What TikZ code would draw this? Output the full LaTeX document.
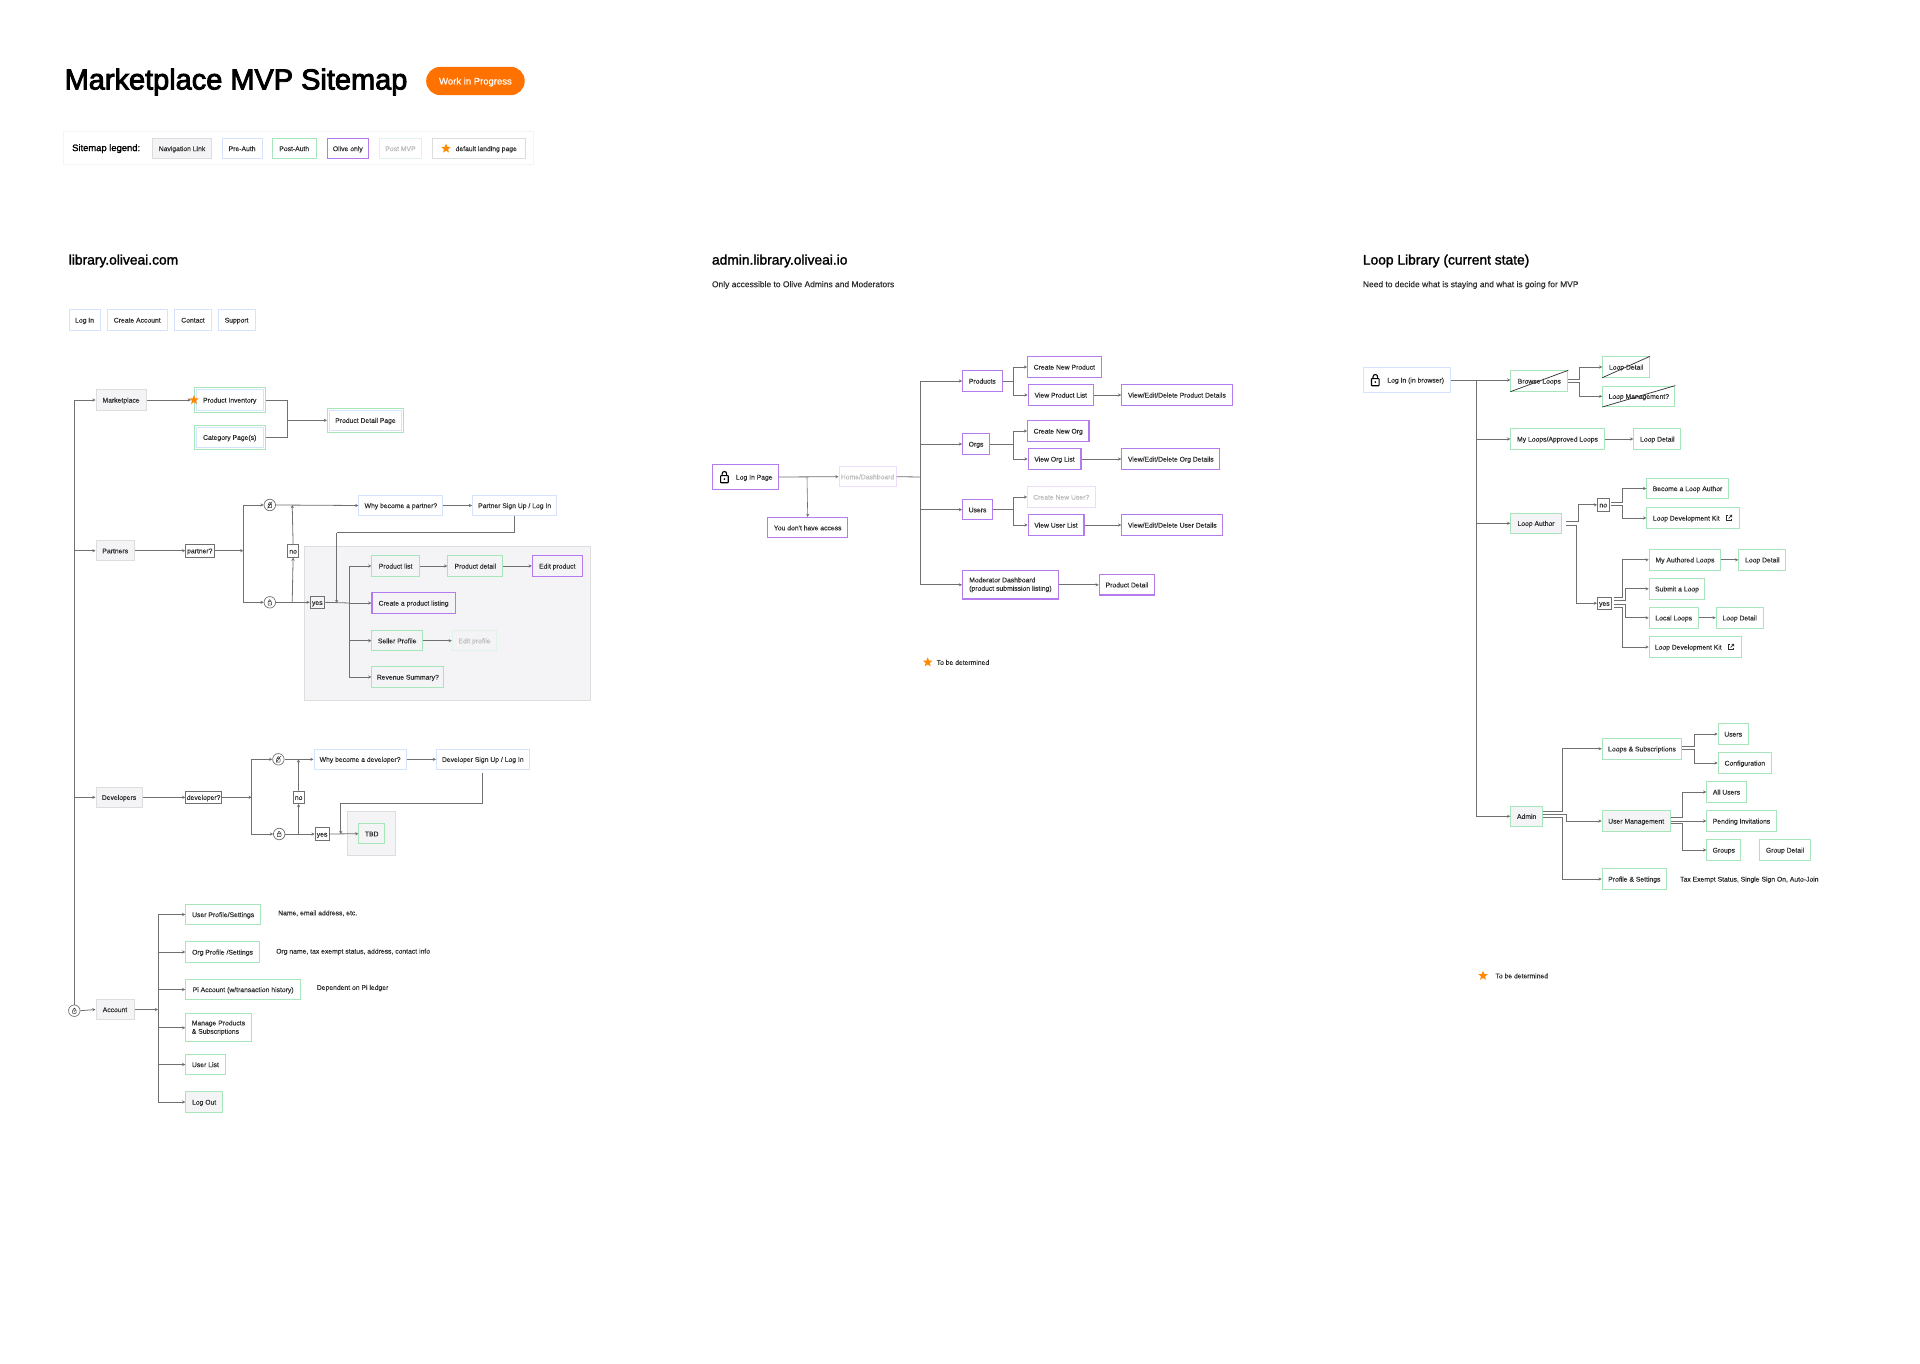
\documentclass[tikz,border=0pt]{standalone}
\usepackage{fontspec}
\usepackage{xcolor}
\setmainfont{Liberation Sans}
\newfontfamily\labelfont[FakeBold=0.15]{Liberation Sans}
\newfontfamily\medfont[FakeBold=1.6]{Liberation Sans}
\newfontfamily\heavyfont[FakeBold=3]{Liberation Sans}
\usepackage{tikz}
\usetikzlibrary{arrows.meta}
\usetikzlibrary{shapes.geometric}
\definecolor{linegray}{HTML}{707070}
\definecolor{textgray}{HTML}{2E2E2E}
\definecolor{fadetext}{HTML}{BBBBBB}
\definecolor{navfill}{HTML}{F4F4F6}
\definecolor{navedge}{HTML}{DDDDDD}
\definecolor{preedge}{HTML}{D5E3FF}
\definecolor{postedge}{HTML}{A6E6BA}
\definecolor{oliveedge}{HTML}{B57BEE}
\definecolor{laterpurple}{HTML}{EBDDFB}
\definecolor{latergreen}{HTML}{DFF4E6}
\definecolor{pillorange}{HTML}{FF7200}
\definecolor{starorange}{HTML}{FF8A00}
\tikzset{
  boxnode/.style={anchor=west, inner xsep=0pt, inner ysep=0pt, minimum height=20.4pt, text height=6.2pt, text depth=1pt, text=textgray, align=left, font=\labelfont\fontsize{6.8}{8.4}\selectfont},
  twolines/.style={text height=, text depth=, minimum height=28.3pt},
  navnode/.style={boxnode, draw=navedge, fill=navfill, line width=1pt},
  prenode/.style={boxnode, draw=preedge, line width=1pt},
  postnode/.style={boxnode, draw=postedge, line width=1pt},
  olivenode/.style={boxnode, draw=oliveedge, line width=1.1pt},
  laternode/.style={boxnode, draw=latergreen, line width=1pt, text=fadetext},
  lateolive/.style={boxnode, draw=laterpurple, line width=1pt, text=fadetext},
  asknode/.style={boxnode, draw=linegray, line width=.8pt, minimum height=12.4pt},
  gatenode/.style={circle, draw=linegray, fill=white, line width=.7pt, minimum size=11.5pt, inner sep=0pt},
  starnode/.style={star, star points=5, star point ratio=2.3, fill=starorange, minimum size=10pt, inner sep=0pt},
  notenode/.style={anchor=west, inner sep=0pt, text height=6.2pt, text depth=1pt, text=textgray, font=\labelfont\fontsize{6.8}{8.4}\selectfont},
  headnode/.style={anchor=west, inner sep=0pt, text=black, font=\medfont\fontsize{13.8}{17}\selectfont},
  subnode/.style={anchor=west, inner sep=0pt, text=textgray, font=\labelfont\fontsize{8.45}{10}\selectfont},
  panelbox/.style={fill=navfill, draw=navedge, line width=.8pt},
  wire/.style={draw=linegray, line width=.8pt},
  arr/.style={wire, -{Stealth[length=3.2pt,width=3.2pt]}},
  crossed/.style={draw=textgray, line width=.7pt},
  pics/lockpic/.style={code={
    \draw[rounded corners=.6pt] (-4,-1.5) rectangle (4,6);
    \draw (-2.4,-1.5) -- (-2.4,-3.4) arc (180:0:2.4 and -2.4) -- (2.4,-1.5);
    \fill (0,2.2) circle (1);
  }},
  pics/openlockpic/.style={code={
    \draw[rounded corners=.6pt] (-4,-1.5) rectangle (4,6);
    \draw (-2.4,-1.5) -- (-2.4,-3.4) arc (180:0:2.4 and -2.4) -- (2.4,-1.5);
    \draw (-5,7) -- (5,-7);
  }},
  pics/linkpic/.style={code={
    \draw (-1,-3.5) -- (-3.5,-3.5) -- (-3.5,3.5) -- (3.5,3.5) -- (3.5,1);
    \draw (-.5,.5) -- (3.5,-3.5) (.8,-3.5) -- (3.5,-3.5) -- (3.5,-.8);
  }},
}
\begin{document}
\begin{tikzpicture}[x=1pt, y=-1pt]
  \useasboundingbox (0,0) rectangle (1920,1364);
  \fill[white] (0,0) rectangle (1920,1364);

  \node[anchor=west, inner sep=0pt, font=\heavyfont\fontsize{28.95}{32}\selectfont] (title) at (64.5,82) {Marketplace MVP Sitemap};
  \node[anchor=west, fill=pillorange, text=white, rounded corners=14pt, inner sep=0pt, minimum width=98.5pt, minimum height=28.3pt, text height=7.6pt, text depth=.6pt, font=\labelfont\fontsize{9.5}{11}\selectfont] (wip) at (426,81) {Work in Progress};

  \node[draw=navfill, line width=1pt, anchor=west, minimum width=470pt, minimum height=33pt, inner sep=0pt] (legend) at (63,148.5) {};
  \node[notenode, text=black, font=\medfont\fontsize{9.4}{11}\selectfont] (legendname) at (72,148.5) {Sitemap legend:};
  \node[navnode, minimum width=59pt] (legendnav) at (152,148.5) {Navigation Link};
  \node[prenode, minimum width=40pt] (legendpre) at (221.6,148.5) {Pre-Auth};
  \node[postnode, minimum width=43.5pt] (legendpost) at (272,148.5) {Post-Auth};
  \node[olivenode, minimum width=41.5pt] (legendolive) at (326.5,148.5) {Olive only};
  \node[laternode, minimum width=42pt] (legendlater) at (379,148.5) {Post MVP};
  \node[boxnode, draw=navedge, line width=1pt, minimum width=92.5pt] (legenddefault) at (432,148.5) {\hspace*{15pt}default landing page};
  \node[starnode] (legendstar) at (446,148.5) {};

  % public site
  \node[headnode] (libraryhead) at (68.6,261) {library.oliveai.com};
  \node[prenode, minimum width=31pt] (login) at (68.6,320) {Log In};
  \node[prenode, minimum width=59.5pt] (create) at (107,320) {Create Account};
  \node[prenode, minimum width=37pt] (contact) at (174,320) {Contact};
  \node[prenode, minimum width=37.2pt] (support) at (217.5,320) {Support};

  \node[navnode, minimum width=50.2pt] (market) at (95.5,400) {Marketplace};
  \node[postnode, minimum width=70.5pt, minimum height=24.6pt] (inventory) at (194,400) {};
  \node[prenode, minimum width=66.5pt] (inventoryin) at (196,400) {Product Inventory};
  \node[starnode] (inventorystar) at (194,400) {};
  \node[postnode, minimum width=70.5pt, minimum height=24.6pt] (category) at (194,437.3) {};
  \node[prenode, minimum width=66.5pt] (categoryin) at (196,437.3) {Category Page(s)};
  \node[postnode, minimum width=76pt, minimum height=24.4pt] (detail) at (327,420.3) {};
  \node[prenode, minimum width=72pt] (detailin) at (329,420.3) {Product Detail Page};
  \coordinate (marketjoin) at (287.3,420.3);
  \draw[arr] (market.east) -- (inventorystar.west);
  \draw[wire] (inventory.east) -| (marketjoin);
  \draw[wire] (category.east) -| (marketjoin);
  \draw[arr] (marketjoin) -- (detail.west);

  \node[navnode, minimum width=38.5pt] (partners) at (95.5,550.7) {Partners};
  \node[asknode, minimum width=28.2pt] (partnerask) at (185.3,550.7) {partner?};
  \coordinate (partnersplit) at (243.3,550.7);
  \node[gatenode] (partnerout) at (269.8,505) {};
  \node[gatenode] (partnerin) at (269.8,602.3) {};
  \pic[scale=.45, draw=textgray, line width=.5pt] at (partnerout) {openlockpic};
  \pic[scale=.45, draw=textgray, fill=textgray, line width=.5pt] at (partnerin) {lockpic};
  \node[prenode, minimum width=84pt] (partnerwhy) at (358.4,505.5) {Why become a partner?};
  \node[prenode, minimum width=84.3pt] (partnersign) at (472,505.5) {Partner Sign Up / Log In};
  \node[asknode, minimum width=11.4pt] (partnerno) at (287,551) {no};
  \draw[panelbox] (304.5,546.3) rectangle (590.6,700.3);
  \node[asknode, minimum width=14.2pt] (partneryes) at (309.8,602.3) {yes};
  \node[postnode, minimum width=47.4pt] (productlist) at (371.4,566) {Product list};
  \node[postnode, minimum width=55.1pt] (productdetail) at (447.3,566) {Product detail};
  \node[olivenode, minimum width=49.8pt] (editproduct) at (531.8,566) {Edit product};
  \node[olivenode, minimum width=83.3pt] (listing) at (371.4,603) {Create a product listing};
  \node[postnode, minimum width=50.6pt] (seller) at (371.4,640.7) {Seller Profile};
  \node[laternode, minimum width=44.5pt] (editprofile) at (451.8,640.7) {Edit profile};
  \node[postnode, minimum width=71.9pt] (revenue) at (371.4,677) {Revenue Summary?};
  \coordinate (partnerup) at (292.2,602.3);
  \coordinate (partnertop) at (292.2,505);
  \coordinate (sellerdrop) at (336.7,603);
  \coordinate (sellerbend) at (336.7,532.7);
  \coordinate (sellersplit) at (349.8,603);
  \draw[arr] (partners.east) -- (partnerask.west);
  \draw[arr] (partnerask.east) -- (partnersplit);
  \draw[arr] (partnersplit) |- (partnerout.west);
  \draw[arr] (partnersplit) |- (partnerin.west);
  \draw[arr] (partnerout.east) -- (partnerwhy.west);
  \draw[arr] (partnerin.east) -- (partneryes.west);
  \draw[arr] (partnerup) -- (partnerno.south);
  \draw[arr] (partnerno.north) -- (partnertop);
  \draw[arr] (partnerwhy.east) -- (partnersign.west);
  \draw[wire] (partnersign.south) |- (sellerbend);
  \draw[arr] (sellerbend) -- (sellerdrop);
  \draw[wire] (partneryes.east) -- (sellersplit);
  \draw[arr] (sellersplit) -- (listing.west);
  \draw[arr] (sellersplit) |- (productlist.west);
  \draw[arr] (sellersplit) |- (seller.west);
  \draw[arr] (sellersplit) |- (revenue.west);
  \draw[arr] (productlist.east) -- (productdetail.west);
  \draw[arr] (productdetail.east) -- (editproduct.west);
  \draw[arr] (seller.east) -- (editprofile.west);

  \node[navnode, minimum width=46.1pt] (developers) at (95.5,797.3) {Developers};
  \node[asknode, minimum width=35.9pt] (developerask) at (185.3,797.3) {developer?};
  \coordinate (developersplit) at (251.8,797.3);
  \node[gatenode] (developerout) at (278.4,759.3) {};
  \node[gatenode] (developerin) at (279.2,834) {};
  \pic[scale=.45, draw=textgray, line width=.5pt] at (developerout) {openlockpic};
  \pic[scale=.45, draw=textgray, fill=textgray, line width=.5pt] at (developerin) {lockpic};
  \node[prenode, minimum width=92.2pt] (developerwhy) at (313.5,759.3) {Why become a developer?};
  \node[prenode, minimum width=92.6pt] (developersign) at (436,759.3) {Developer Sign Up / Log In};
  \node[asknode, minimum width=11pt] (developerno) at (292.7,797.3) {no};
  \node[asknode, minimum width=13.9pt] (developeryes) at (314.7,834) {yes};
  \draw[panelbox] (347.8,811) rectangle (395.5,855.7);
  \node[postnode, minimum width=25.6pt] (tbd) at (358.4,833.7) {TBD};
  \coordinate (developerup) at (298.4,834);
  \coordinate (developertop) at (298.4,759.3);
  \coordinate (tbdbend) at (340.8,803.3);
  \coordinate (tbddrop) at (340.8,834);
  \draw[arr] (developers.east) -- (developerask.west);
  \draw[arr] (developerask.east) -- (developersplit);
  \draw[arr] (developersplit) |- (developerout.west);
  \draw[arr] (developersplit) |- (developerin.west);
  \draw[arr] (developerout.east) -- (developerwhy.west);
  \draw[arr] (developerin.east) -- (developeryes.west);
  \draw[arr] (developerup) -- (developerno.south);
  \draw[arr] (developerno.north) -- (developertop);
  \draw[arr] (developerwhy.east) -- (developersign.west);
  \draw[wire] ([yshift=-2.6pt]developersign.south) |- (tbdbend);
  \draw[arr] (tbdbend) -- (tbddrop);
  \draw[arr] (developeryes.east) -- (tbd.west);

  \node[gatenode] (accountgate) at (74.3,1010.7) {};
  \pic[scale=.45, draw=textgray, fill=textgray, line width=.5pt] at (accountgate) {lockpic};
  \node[navnode, minimum width=38pt] (account) at (95.5,1009.5) {Account};
  \coordinate (accountsplit) at (158,1009.5);
  \coordinate (partnerstub) at (74.3,550.7);
  \coordinate (developerstub) at (74.3,797.3);
  \node[postnode, minimum width=74.7pt] (profile) at (185.3,914.5) {User Profile/Settings};
  \node[postnode, minimum width=73.5pt] (orgprofile) at (185.3,952) {Org Profile /Settings};
  \node[postnode, minimum width=114.7pt] (piaccount) at (185.3,989.5) {Pi Account (w/transaction history)};
  \node[postnode, twolines, minimum width=65.3pt] (manage) at (185.3,1027.8) {Manage Products\\\& Subscriptions};
  \node[postnode, minimum width=39.2pt] (userlist) at (185.3,1064.5) {User List};
  \node[postnode, fill=navfill, minimum width=36.7pt] (logout) at (185.3,1102) {Log Out};
  \node[notenode] (profilenote) at (278,912.7) {Name, email address, etc.};
  \node[notenode] (orgnote) at (276,951) {Org name, tax exempt status, address, contact info};
  \node[notenode] (pinote) at (316.7,987.3) {Dependent on Pi ledger};
  \draw[arr] (accountgate.north) |- (market.west);
  \draw[arr] (partnerstub) -- (partners.west);
  \draw[arr] (developerstub) -- (developers.west);
  \draw[arr] (accountgate.east) -- (account.west);
  \draw[arr] (account.east) -- (accountsplit);
  \draw[arr] (accountsplit) |- (profile.west);
  \draw[arr] (accountsplit) |- (orgprofile.west);
  \draw[arr] (accountsplit) |- (piaccount.west);
  \draw[arr] (accountsplit) |- (manage.west);
  \draw[arr] (accountsplit) |- (userlist.west);
  \draw[arr] (accountsplit) |- (logout.west);

  % admin site
  \node[headnode] (adminhead) at (711.8,261) {admin.library.oliveai.io};
  \node[subnode] (adminsub) at (711.8,285) {Only accessible to Olive Admins and Moderators};
  \node[olivenode, minimum width=65.8pt, minimum height=25.4pt] (adminlog) at (711.8,477) {\hspace*{18pt}Log In Page};
  \pic[scale=.95, draw=black, fill=black, line width=1.1pt] at ([xshift=12.6pt]adminlog.west) {lockpic};
  \node[lateolive, minimum width=57pt] (home) at (838.5,476.7) {Home/Dashboard};
  \node[olivenode, minimum width=79.7pt] (noaccess) at (767.3,527.7) {You don't have access};
  \coordinate (adminfork) at (807,477);
  \coordinate (adminsplit) at (920.8,477);
  \node[olivenode, minimum width=39.5pt] (products) at (962,381) {Products};
  \node[olivenode, minimum width=73.6pt] (newproduct) at (1027,367) {Create New Product};
  \node[olivenode, minimum width=65.5pt] (viewproduct) at (1027.5,395) {View Product List};
  \node[olivenode, minimum width=110.2pt] (editdetails) at (1121.3,395) {View/Edit/Delete Product Details};
  \node[olivenode, minimum width=27pt] (orgs) at (962,444) {Orgs};
  \node[olivenode, minimum width=61.4pt] (neworg) at (1027,431) {Create New Org};
  \node[olivenode, minimum width=52.9pt] (vieworg) at (1027.5,459) {View Org List};
  \node[olivenode, minimum width=98pt] (editorg) at (1121.3,459) {View/Edit/Delete Org Details};
  \node[olivenode, minimum width=30pt] (users) at (962,509.7) {Users};
  \node[lateolive, minimum width=67.5pt] (newuser) at (1027,497) {Create New User?};
  \node[olivenode, minimum width=55.9pt] (viewuser) at (1027.5,525) {View User List};
  \node[olivenode, minimum width=101pt] (edituser) at (1121.3,525) {View/Edit/Delete User Details};
  \node[olivenode, twolines, minimum width=95.8pt] (moderator) at (962,584.8) {Moderator Dashboard\\(product submission listing)};
  \node[olivenode, minimum width=55.5pt] (moddetail) at (1098.7,584.8) {Product Detail};
  \node[starnode] (adminstar) at (927.7,662.3) {};
  \node[notenode] (adminstarnote) at (936.5,662.3) {To be determined};
  \coordinate (productsplit) at (1013.4,381);
  \coordinate (orgsplit) at (1013.4,444);
  \coordinate (usersplit) at (1013.4,509.7);
  \draw[arr] (adminlog.east) -- (home.west);
  \draw[arr, line width=.6pt] (adminfork) -- (noaccess.north);
  \draw[wire] (home.east) -- (adminsplit);
  \draw[arr] (adminsplit) |- (products.west);
  \draw[arr] (adminsplit) |- (orgs.west);
  \draw[arr] (adminsplit) |- (users.west);
  \draw[arr] (adminsplit) |- (moderator.west);
  \draw[wire] (products.east) -- (productsplit);
  \draw[arr] (productsplit) |- (newproduct.west);
  \draw[arr] (productsplit) |- (viewproduct.west);
  \draw[arr] (viewproduct.east) -- (editdetails.west);
  \draw[wire] (orgs.east) -- (orgsplit);
  \draw[arr] (orgsplit) |- (neworg.west);
  \draw[arr] (orgsplit) |- (vieworg.west);
  \draw[arr] (vieworg.east) -- (editorg.west);
  \draw[wire] (users.east) -- (usersplit);
  \draw[arr] (usersplit) |- (newuser.west);
  \draw[arr] (usersplit) |- (viewuser.west);
  \draw[arr] (viewuser.east) -- (edituser.west);
  \draw[arr] (moderator.east) -- (moddetail.west);

  % loop library
  \node[headnode] (loophead) at (1362.7,261) {Loop Library (current state)};
  \node[subnode] (loopsub) at (1362.7,285) {Need to decide what is staying and what is going for MVP};
  \node[prenode, minimum width=87pt, minimum height=25.4pt] (looplog) at (1362.7,380) {\hspace*{18pt}Log In (in browser)};
  \pic[scale=.95, draw=black, fill=black, line width=1.1pt] at ([xshift=12.6pt]looplog.west) {lockpic};
  \coordinate (loopsplit) at (1476.7,380);
  \node[postnode, minimum width=57pt] (browse) at (1510.3,381) {Browse Loops};
  \node[postnode, minimum width=46.7pt] (browsedetail) at (1602.3,367) {Loop Detail};
  \node[postnode, minimum width=72pt] (browsemanage) at (1602.3,396.3) {Loop Management?};
  \node[postnode, minimum width=93.4pt] (myloops) at (1510.3,439) {My Loops/Approved Loops};
  \node[postnode, minimum width=47pt] (myloopsdetail) at (1633.3,439) {Loop Detail};
  \node[postnode, fill=navfill, minimum width=50.4pt] (author) at (1510.3,523.3) {Loop Author};
  \node[asknode, minimum width=11.7pt] (authorno) at (1597,504.8) {no};
  \node[asknode, minimum width=14pt] (authoryes) at (1597,603.2) {yes};
  \node[postnode, minimum width=81.4pt] (become) at (1646.3,488.5) {Become a Loop Author};
  \node[postnode, minimum width=93pt, minimum height=21.4pt] (devkit) at (1646.3,518) {Loop Development Kit\hspace*{14pt}};
  \pic[scale=.8, draw=textgray, line width=.7pt] at (1729,518) {linkpic};
  \node[postnode, minimum width=71.6pt] (authored) at (1648.7,559.8) {My Authored Loops};
  \node[postnode, minimum width=47pt] (authoreddetail) at (1738.3,559.8) {Loop Detail};
  \node[postnode, minimum width=55.6pt] (submit) at (1648.7,588.8) {Submit a Loop};
  \node[postnode, minimum width=49pt] (local) at (1648.7,617.8) {Local Loops};
  \node[postnode, minimum width=47pt] (localdetail) at (1715.7,617.8) {Loop Detail};
  \node[postnode, minimum width=92.6pt, minimum height=21pt] (devkittwo) at (1648.7,647) {Loop Development Kit\hspace*{14.5pt}};
  \pic[scale=.8, draw=textgray, line width=.7pt] at (1731,647) {linkpic};
  \draw[crossed] (browse.south west) -- (browse.north east);
  \draw[crossed] (browsedetail.south west) -- (browsedetail.north east);
  \draw[crossed] (browsemanage.south west) -- (browsemanage.north east);
  \draw[arr] (looplog.east) -- (browse.west |- looplog.east);
  \draw[arr] (loopsplit) |- (myloops.west);
  \draw[arr] (loopsplit) |- (author.west);
  \draw[arr] ([yshift=2pt]browse.east) -- ++(11.4,0) |- (browsedetail.west);
  \draw[arr] ([yshift=-1.3pt]browse.east) -- ++(11.4,0) |- (browsemanage.west);
  \draw[arr] (myloops.east) -- (myloopsdetail.west);
  \draw[arr] ([xshift=4.3pt,yshift=1.6pt]author.east) -- ++(12.7,0) |- (authorno.west);
  \draw[arr] ([xshift=4.3pt,yshift=-1.7pt]author.east) -- ++(10,0) |- (authoryes.west);
  \draw[arr] ([xshift=1.6pt,yshift=2.5pt]authorno.east) -- ++(11.4,0) |- (become.west);
  \draw[arr] ([xshift=1.6pt,yshift=-.9pt]authorno.east) -- ++(11.4,0) |- (devkit.west);
  \draw[arr] ([xshift=2pt,yshift=5.5pt]authoryes.east) -- ++(8.7,0) |- (authored.west);
  \draw[arr] ([xshift=2pt,yshift=2.5pt]authoryes.east) -- ++(11.3,0) |- (submit.west);
  \draw[arr] ([xshift=2pt,yshift=-1.5pt]authoryes.east) -- ++(11.3,0) |- (local.west);
  \draw[arr] ([xshift=2pt,yshift=-4.1pt]authoryes.east) -- ++(8.7,0) |- (devkittwo.west);
  \draw[arr] (authored.east) -- (authoreddetail.west);
  \draw[arr] (local.east) -- (localdetail.west);

  \node[postnode, fill=navfill, minimum width=31.7pt] (admin) at (1510.3,816.3) {Admin};
  \node[postnode, minimum width=79.6pt] (subscriptions) at (1601.7,748.8) {Loops \& Subscriptions};
  \node[postnode, minimum width=30pt] (adminusers) at (1717.7,734) {Users};
  \node[postnode, minimum width=53.3pt] (configuration) at (1717.7,763) {Configuration};
  \node[postnode, fill=navfill, minimum width=68pt] (management) at (1601.7,821) {User Management};
  \node[postnode, minimum width=39.4pt] (allusers) at (1706.3,792) {All Users};
  \node[postnode, minimum width=69.4pt] (pending) at (1706.3,821) {Pending Invitations};
  \node[postnode, minimum width=34pt] (groups) at (1706.3,850) {Groups};
  \node[postnode, minimum width=50.4pt] (groupdetail) at (1759.3,850) {Group Detail};
  \node[postnode, minimum width=64.3pt] (settings) at (1601.7,879) {Profile \& Settings};
  \node[notenode] (settingsnote) at (1680,879) {Tax Exempt Status, Single Sign On, Auto-Join};
  \node[starnode] (loopstar) at (1483,975.7) {};
  \node[notenode] (loopstarnote) at (1495.3,975.7) {To be determined};
  \draw[arr] (loopsplit) |- (admin.west);
  \draw[arr] ([yshift=4.6pt]admin.east) -- ++(19.7,0) |- (subscriptions.west);
  \draw[arr] ([yshift=1.6pt]admin.east) -- ++(23.7,0) |- (management.west);
  \draw[arr] ([yshift=-1.4pt]admin.east) -- ++(19.7,0) |- (settings.west);
  \draw[arr] ([yshift=2.5pt]subscriptions.east) -- ++(11.7,0) |- (adminusers.west);
  \draw[arr] ([yshift=-.5pt]subscriptions.east) -- ++(11.7,0) |- (configuration.west);
  \draw[arr] ([yshift=3.7pt]management.east) -- ++(11.6,0) |- (allusers.west);
  \draw[arr] (management.east) -- (pending.west);
  \draw[arr] ([yshift=-2.7pt]management.east) -- ++(11.6,0) |- (groups.west);
\end{tikzpicture}
\end{document}
